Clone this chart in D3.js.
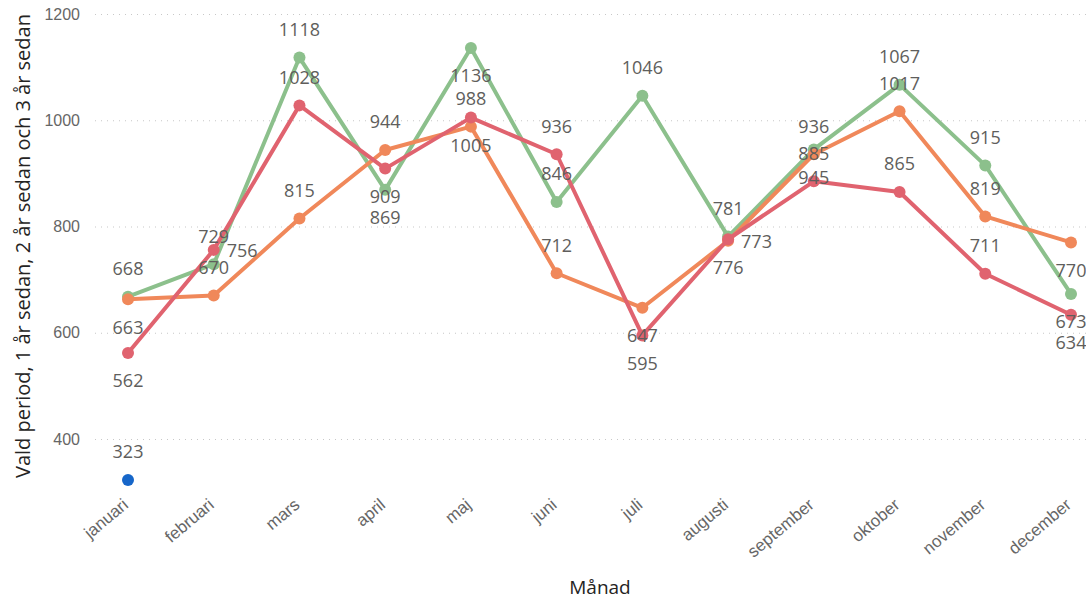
<!DOCTYPE html>
<html>
<head>
<meta charset="utf-8">
<script src="https://cdn.jsdelivr.net/npm/d3@7"></script>
<style>
  body { margin: 0; background: #fff; }
  svg { display: block; font-family: "Open Sans", "Noto Sans", sans-serif; }
  .grid line { stroke: #c8c8c8; stroke-dasharray: 1 5; stroke-width: 1.2; }
  .tick text { fill: #666; }
  .lbl { fill: #605e5c; font-size: 18px; }
</style>
</head>
<body>
<div id="chart"></div>
<script>
// Månader
const months = ["januari", "februari", "mars", "april", "maj", "juni", "juli",
    "augusti", "september", "oktober", "november", "december"];

const valdPeriod = [323, null, null, null, null, null, null, null, null, null, null, null];
const ettAr = [663, 670, 815, 944, 988, 712, 647, 773, 936, 1017, 819, 770];
const tvaAr = [562, 756, 1028, 909, 1005, 936, 595, 776, 885, 865, 711, 634];
const treAr = [668, 729, 1118, 869, 1136, 846, 1046, 781, 945, 1067, 915, 673];

const yTicks = [400, 600, 800, 1000, 1200];

const series = [
    {name: "3 år sedan", values: treAr, color: "#8cc08c"},
    {name: "1 år sedan", values: ettAr, color: "#f0885a"},
    {name: "2 år sedan", values: tvaAr, color: "#e0636f"},
    {name: "Vald period", values: valdPeriod, color: "#1666c9"}
];

// label placement per series and month: a = above, b = below, r = right
const placement = {
    "1 år sedan": "baaaaabraaab",
    "2 år sedan": "brabbabbaaab",
    "3 år sedan": "aaabbaaabaab",
    "Vald period": "aaaaaaaaaaaa"
};

const width = 1086, height = 601;

const svg = d3.select("#chart")
    .append("svg")
    .attr("width", width)
    .attr("height", height);

const x = d3.scalePoint()
    .domain(months)
    .range([128, 1071]);

const y = d3.scaleLinear()
    .domain([400, 1200])
    .range([439, 14]);

// Y grid + labels
svg.append("g")
    .attr("class", "grid")
    .attr("transform", "translate(95,0)")
    .call(d3.axisLeft(y).tickValues(yTicks).tickFormat(d3.format("d"))
        .tickSize(-(width - 95)).tickPadding(15))
    .call(g => g.select(".domain").remove())
    .call(g => g.selectAll("text").style("font-size", "16px"));

// X axis
svg.append("g")
    .attr("transform", "translate(-3,502)")
    .call(d3.axisBottom(x).tickSize(0).tickPadding(0))
    .call(g => g.select(".domain").remove())
    .selectAll("text")
    .style("font-size", "17px")
    .attr("y", 0)
    .attr("dy", "0.35em")
    .attr("transform", "rotate(-40)")
    .style("text-anchor", "end");

// Axis titles
svg.append("text")
    .attr("transform", "translate(30,246) rotate(-90)")
    .attr("text-anchor", "middle")
    .style("font-size", "20px")
    .style("fill", "#252423")
    .text("Vald period, 1 år sedan, 2 år sedan och 3 år sedan");

svg.append("text")
    .attr("x", 600)
    .attr("y", 594)
    .attr("text-anchor", "middle")
    .style("font-size", "19px")
    .style("fill", "#252423")
    .text("Månad");

const line = d3.line()
    .defined(d => d != null)
    .x((d, i) => x(months[i]))
    .y(d => y(d));

series.forEach(s => {
    svg.append("path")
        .datum(s.values)
        .attr("fill", "none")
        .attr("stroke", s.color)
        .attr("stroke-width", 4)
        .attr("stroke-linejoin", "round")
        .attr("d", line);

    svg.selectAll(null)
        .data(s.values.map((v, i) => ({v, i})).filter(d => d.v != null))
        .enter().append("circle")
        .attr("cx", d => x(months[d.i]))
        .attr("cy", d => y(d.v))
        .attr("r", 6)
        .attr("fill", s.color);
});

// Data labels
series.forEach(s => {
    const pos = placement[s.name];
    svg.selectAll(null)
        .data(s.values.map((v, i) => ({v, i})).filter(d => d.v != null))
        .enter().append("text")
        .attr("class", "lbl")
        .attr("text-anchor", d => pos[d.i] === "r" ? "start" : "middle")
        .attr("dy", "0.35em")
        .attr("x", d => x(months[d.i]) + (pos[d.i] === "r" ? 13 : 0))
        .attr("y", d => y(d.v) + (pos[d.i] === "a" ? -28 : pos[d.i] === "b" ? 28 : 1))
        .text(d => d.v);
});
</script>
</body>
</html>
